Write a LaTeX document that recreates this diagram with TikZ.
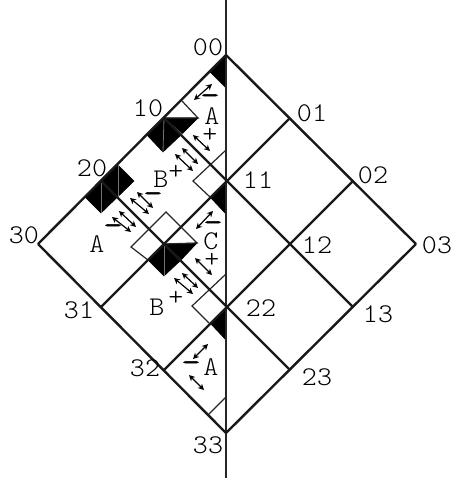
\documentclass[tikz,border=0pt]{standalone}
\usepackage{fontspec}
\usetikzlibrary{arrows.meta}
\newfontfamily\labfont[FakeStretch=1.06]{Latin Modern Mono Light}
\newfontfamily\signfont[FakeStretch=1.35,FakeBold=2]{Latin Modern Mono}

\begin{document}
\begin{tikzpicture}[
  x=1pt, y=-1pt,
  lab/.style={inner sep=0pt, font=\fontsize{27}{27}\labfont},
  sign/.style={inner sep=0pt, font=\fontsize{27}{27}\signfont},
  grid/.style={line width=2.4pt, black!90},
  thinline/.style={line width=1.2pt, black!85},
  blk/.style={fill=black, draw=black, line width=0.6pt},
  seam/.style={line width=0.8pt, black!55},
  dbl/.style={{Stealth[length=6pt,width=6pt]}-{Stealth[length=6pt,width=6pt]}, line width=1.2pt}
]
\useasboundingbox (0,0) rectangle (454,482);

% vertices
\coordinate (v00) at (226,55);
\coordinate (v01) at (290,118);
\coordinate (v02) at (353,181);
\coordinate (v03) at (416,244);
\coordinate (v10) at (164,118);
\coordinate (v11) at (226,181);
\coordinate (v12) at (290,244);
\coordinate (v13) at (353,307);
\coordinate (v20) at (101,181);
\coordinate (v21) at (164,244);
\coordinate (v22) at (226,307);
\coordinate (v23) at (290,370);
\coordinate (v30) at (38,244);
\coordinate (v31) at (101,307);
\coordinate (v32) at (164,370);
\coordinate (v33) at (226,433);
\coordinate (top) at (226,0);
\coordinate (bot) at (226,478);

% black marks
\fill [blk] (v00) -- (226,88) -- (210,72) -- cycle;
\fill [blk] (v11) -- (226,214) -- (210,197) -- cycle;
\fill [blk] (v22) -- (226,340) -- (210,323) -- cycle;
\fill [blk] (v10) -- (198,118) -- (182,134) -- (163,152) -- (147,135) -- cycle;
\fill [blk] (v20) -- (118,165) -- (134,181) -- (101,213) -- (85,197) -- cycle;
\fill [blk] (v21) -- (197,243) -- (181,260) -- (164,276) -- (148,260) -- cycle;

% seams in the black marks
\draw [seam] (v10) -- (163,152);
\draw [seam] (v10) -- (182,134);
\draw [seam] (v20) -- (101,213);
\draw [seam] (118,165) -- (118,197);
\draw [seam] (v21) -- (164,276);
\draw [seam] (v21) -- (181,260);

% thin outlines
\draw [thinline] (v10) -- (198,118) -- (182,101);
\draw [thinline] (226,150) -- (193,181) -- (210,197);
\draw [thinline] (v21) -- (197,243) -- (181,227);
\draw [thinline] (181,227) -- (166,212) -- (131,247) -- (148,260);
\draw [thinline] (226,274) -- (192,306) -- (209,323);
\draw [thinline] (226,397) -- (209,414);

% axis
\draw [line width=1.1pt, black!85] (top) -- (bot);

% grid
\draw [grid] (v00) -- (v03);
\draw [grid] (v10) -- (v13);
\draw [grid] (v20) -- (v23);
\draw [grid] (v30) -- (v33);
\draw [grid] (v00) -- (v30);
\draw [grid] (v01) -- (v31);
\draw [grid] (v02) -- (v32);
\draw [grid] (v03) -- (v33);

% vertex labels
\node (l00) [lab] at (208,47) {00};
\node (l01) [lab] at (312,113) {01};
\node (l02) [lab] at (373,175) {02};
\node (l03) [lab] at (437,245) {03};
\node (l10) [lab] at (148,108) {10};
\node (l11) [lab] at (258,180) {11};
\node (l12) [lab] at (317,245) {12};
\node (l13) [lab] at (378,314) {13};
\node (l20) [lab] at (92,168) {20};
\node (l22) [lab] at (261,308) {22};
\node (l23) [lab] at (317,377) {23};
\node (l30) [lab] at (24,235) {30};
\node (l31) [lab] at (79,310) {31};
\node (l32) [lab] at (145,368) {32};
\node (l33) [lab] at (208,445) {33};

% letters
\node (a1) [lab] at (212,116) {A};
\node (b1) [lab] at (161,179) {B};
\node (a2) [lab] at (97,244) {A};
\node (c1) [lab] at (211,241) {C};
\node (b2) [lab] at (157,307) {B};
\node (a3) [lab] at (211,367) {A};

% plus
\node (p1) [lab] at (210,135) {+};
\node (p2) [lab] at (176,172) {+};
\node (p3) [lab] at (212,260) {+};
\node (p4) [lab] at (176,298) {+};

% minus
\node (m1) [sign] at (210,99) {\textendash};
\node (m2) [sign] at (153,197) {\textendash};
\node (m3) [sign] at (113,229) {\textendash};
\node (m4) [sign] at (213,226) {\textendash};
\node (m5) [sign] at (191,366) {\textendash};

% double arrows
\draw [dbl] (212,84) -- (194,100);
\draw [dbl] (193,135) -- (210,151);
\draw [dbl] (182,148) -- (198,164);
\draw [dbl] (175,154) -- (193,171);
\draw [dbl] (137,192) -- (153,208);
\draw [dbl] (130,198) -- (149,214);
\draw [dbl] (119,211) -- (136,227);
\draw [dbl] (112,217) -- (131,232);
\draw [dbl] (213,211) -- (196,229);
\draw [dbl] (195,258) -- (212,275);
\draw [dbl] (182,273) -- (198,288);
\draw [dbl] (174,278) -- (193,294);
\draw [dbl] (208,344) -- (193,359);
\draw [dbl] (189,375) -- (204,390);

\end{tikzpicture}
\end{document}
